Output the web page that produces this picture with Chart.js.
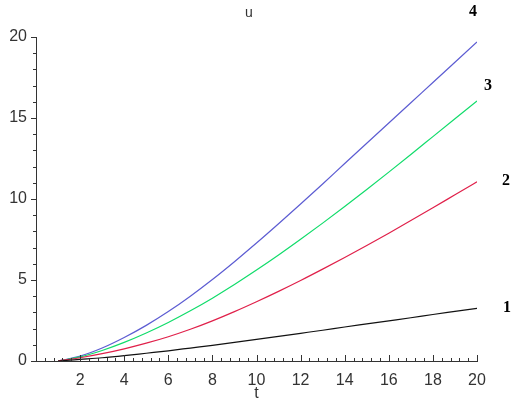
<!DOCTYPE html>
<html>
<head>
<meta charset="utf-8">
<script src="https://cdn.jsdelivr.net/npm/chart.js@4/dist/chart.umd.min.js"></script>
<style>
  html, body { margin: 0; padding: 0; background: #fff; }
  #wrap { width: 512px; height: 402px; }
</style>
</head>
<body>
<div id="wrap"><canvas id="myChart"></canvas></div>
<script>
// t values and the four curves
const tValues = [1, 2, 3, 4, 5, 6, 7, 8, 9, 10, 11, 12, 13, 14, 15, 16, 17, 18, 19, 20];
const curve1 = [0, 0.1, 0.2, 0.33, 0.48, 0.63, 0.8, 0.97, 1.15, 1.33, 1.52, 1.71, 1.9, 2.1, 2.29, 2.48, 2.67, 2.87, 3.06, 3.25];
const curve2 = [0, 0.2, 0.45, 0.75, 1.1, 1.5, 1.96, 2.48, 3.05, 3.66, 4.3, 4.97, 5.67, 6.39, 7.13, 7.89, 8.67, 9.46, 10.26, 11.06];
const curve3 = [0, 0.25, 0.65, 1.15, 1.73, 2.38, 3.1, 3.88, 4.72, 5.61, 6.54, 7.51, 8.51, 9.54, 10.59, 11.66, 12.75, 13.85, 14.95, 16.05];
const curve4 = [0, 0.3, 0.8, 1.45, 2.2, 3.05, 4.0, 5.03, 6.13, 7.28, 8.47, 9.69, 10.93, 12.19, 13.44, 14.69, 15.94, 17.19, 18.44, 19.69];
const curveNames = ['1', '2', '3', '4'];
const xTickLabels = [2, 4, 6, 8, 10, 12, 14, 16, 18, 20];
const yTickLabels = [0, 5, 10, 15, 20];

const pts = (ys) => tValues.map((t, i) => ({ x: t, y: ys[i] }));
const near = (v, list) => list.some(l => Math.abs(v - l) < 1e-6);

// label offsets from the last point of each curve
const labelShift = [[30, 0], [29, -1], [11, -15], [-4, -30]];

const extras = {
  id: 'extras',
  afterDraw(chart) {
    const c = chart.ctx;
    const x = chart.scales.x, y = chart.scales.y;
    const area = chart.chartArea;
    c.save();
    c.strokeStyle = '#333';
    c.lineWidth = 1;
    // x ticks point up into the plot
    x.ticks.forEach(tk => {
      const px = Math.round(x.getPixelForValue(tk.value)) + 0.5;
      const len = near(tk.value, xTickLabels) ? 6 : 3;
      c.beginPath();
      c.moveTo(px, area.bottom);
      c.lineTo(px, area.bottom - len);
      c.stroke();
    });
    // y ticks point left
    y.ticks.forEach(tk => {
      const py = Math.round(y.getPixelForValue(tk.value)) + 0.5;
      const len = near(tk.value, yTickLabels) ? 5 : 3;
      c.beginPath();
      c.moveTo(area.left, py);
      c.lineTo(area.left - len, py);
      c.stroke();
    });
    // title and axis name
    c.fillStyle = '#333';
    c.textAlign = 'center';
    c.textBaseline = 'middle';
    c.font = '14px "Liberation Sans", Arial, sans-serif';
    c.fillText('u', 249, 13);
    c.font = '16px "Liberation Sans", Arial, sans-serif';
    c.fillText('t', (area.left + area.right) / 2, 394);
    // curve numbers
    c.fillStyle = '#000';
    c.font = 'bold 16px "Liberation Serif", "Times New Roman", serif';
    chart.data.datasets.forEach((ds, i) => {
      const last = ds.data[ds.data.length - 1];
      const px = x.getPixelForValue(last.x) + labelShift[i][0];
      const py = y.getPixelForValue(last.y) + labelShift[i][1];
      c.fillText(curveNames[i], px, py);
    });
    c.restore();
  }
};

const ctx = document.getElementById('myChart');
const myChart = new Chart(ctx, {
  type: 'line',
  data: {
    datasets: [
      { label: curveNames[0], data: pts(curve1), borderColor: '#111111' },
      { label: curveNames[1], data: pts(curve2), borderColor: '#e0204a' },
      { label: curveNames[2], data: pts(curve3), borderColor: '#10dc6a' },
      { label: curveNames[3], data: pts(curve4), borderColor: '#5c5cd2' }
    ]
  },
  options: {
    responsive: true,
    maintainAspectRatio: false,
    animation: false,
    datasets: {
      line: {
        borderWidth: 1.2,
        pointRadius: 0,
        fill: false,
        cubicInterpolationMode: 'monotone'
      }
    },
    layout: { padding: { top: 37, right: 35, left: 0, bottom: 0 } },
    plugins: {
      legend: { display: false },
      title: { display: false },
      tooltip: { enabled: false }
    },
    scales: {
      x: {
        type: 'linear',
        min: 0,
        max: 20,
        afterFit: (s) => { s.height = 41; },
        grid: { display: true, drawOnChartArea: false, drawTicks: false },
        border: { display: true, color: '#333', width: 1 },
        ticks: {
          stepSize: 0.4,
          autoSkip: false,
          maxRotation: 0,
          padding: 10,
          color: '#333',
          font: { family: '"Liberation Sans", Arial, sans-serif', size: 16 },
          callback: (v) => near(v, xTickLabels) ? String(Math.round(v)) : ''
        }
      },
      y: {
        min: 0,
        max: 20,
        afterFit: (s) => { s.width = 36; },
        grid: { display: true, drawOnChartArea: false, drawTicks: false },
        border: { display: true, color: '#333', width: 1 },
        ticks: {
          stepSize: 1,
          autoSkip: false,
          padding: 9,
          color: '#333',
          font: { family: '"Liberation Sans", Arial, sans-serif', size: 16 },
          callback: (v) => near(v, yTickLabels) ? String(v) : ''
        }
      }
    }
  },
  plugins: [extras]
});
</script>
</body>
</html>
